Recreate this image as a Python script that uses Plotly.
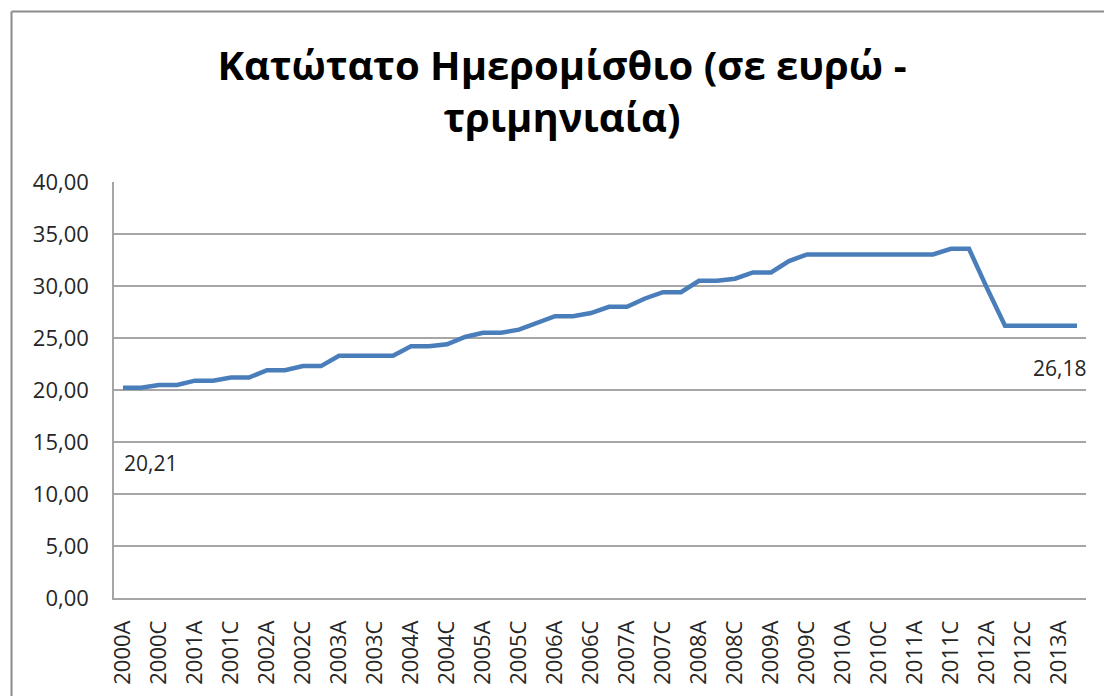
import plotly.graph_objects as go

years = list(range(2000, 2014))
quarters = ["A", "B", "C", "D"]
categories = [f"{y}{q}" for y in years for q in quarters][:54]  # 2000A .. 2013B

values = [
    20.21, 20.21, 20.48, 20.48,   # 2000
    20.90, 20.90, 21.20, 21.20,   # 2001
    21.90, 21.90, 22.30, 22.30,   # 2002
    23.30, 23.30, 23.30, 23.30,   # 2003
    24.20, 24.20, 24.40, 25.10,   # 2004
    25.50, 25.50, 25.80, 26.40,   # 2005
    27.10, 27.10, 27.40, 28.00,   # 2006
    28.00, 28.80, 29.40, 29.40,   # 2007
    30.50, 30.50, 30.70, 31.30,   # 2008
    31.30, 32.40, 33.04, 33.04,   # 2009
    33.04, 33.04, 33.04, 33.04,   # 2010
    33.04, 33.04, 33.57, 33.57,   # 2011
    29.80, 26.18, 26.18, 26.18,   # 2012
    26.18, 26.18,                 # 2013
]

tick_labels = categories[::2]
title_text = "Κατώτατο Ημερομίσθιο (σε ευρώ -<br>τριμηνιαία)"
y_ticks = [0, 5, 10, 15, 20, 25, 30, 35, 40]

FONT = "Open Sans, Noto Sans, DejaVu Sans, sans-serif"
GRID = "#a6a6a6"
FRAME = "#8c8c8c"

W, H = 1104, 696                 # final page size
W0, H0 = W - 16, H - 24          # initial size: fits inside default body margins (no scrollbars)
L, T = 114, 182
R, B = W - 1086, H - 598
PW, PH = W - L - R, H - T - B

fx = (11.5 - L) / PW          # frame left edge (paper)
fy = (T + PH - 11.5) / PH     # frame top edge (paper)

fig = go.Figure()
fig.add_trace(go.Scatter(
    x=categories, y=values, mode="lines",
    line=dict(color="#4a7ebb", width=4.5),
    hoverinfo="x+y", showlegend=False,
))

fig.add_annotation(x=categories[0], y=values[0], xref="x", yref="y",
                   text="20,21", showarrow=False, xanchor="left", yanchor="middle",
                   xshift=-1, yshift=-75,
                   font=dict(family=FONT, size=21, color="#262626"))
fig.add_annotation(x=categories[-1], y=values[-1], xref="x", yref="y",
                   text="26,18", showarrow=False, xanchor="right", yanchor="middle",
                   xshift=11, yshift=-42,
                   font=dict(family=FONT, size=21, color="#262626"))

fig.update_layout(
    width=W0, height=H0,
    margin=dict(l=L, r=R, t=T, b=B),
    paper_bgcolor="white", plot_bgcolor="white",
    separators=", ",
    title=dict(text=title_text, x=562 / W, xanchor="center", xref="container",
               y=1 - 80 / H, yanchor="middle", yref="container",
               font=dict(family=FONT, size=40, color="black", weight="bold")),
    font=dict(family=FONT, color="#262626"),
    xaxis=dict(
        type="category", tickmode="array", tickvals=tick_labels, ticktext=tick_labels,
        tickangle=-90, showgrid=False, showline=True, linecolor=GRID, linewidth=1.5,
        ticks="", ticklabelstandoff=12, tickfont=dict(family=FONT, size=22, color="#262626"),
        range=[-0.5, len(categories) - 0.5], automargin=False,
    ),
    yaxis=dict(
        range=[0, 40], tickvals=y_ticks, tickformat=".2f",
        showgrid=True, gridcolor=GRID, gridwidth=1.5,
        zeroline=True, zerolinecolor=GRID, zerolinewidth=1.5,
        showline=True, linecolor=GRID, linewidth=1.5, automargin=False,
        ticks="", ticklabelstandoff=19, tickfont=dict(family=FONT, size=22, color="#262626"),
    ),
    shapes=[
        dict(type="line", xref="paper", yref="paper", x0=fx, x1=fx, y0=-0.6, y1=fy,
             line=dict(color=FRAME, width=2), layer="below"),
        dict(type="line", xref="paper", yref="paper", x0=fx, x1=1.3, y0=fy, y1=fy,
             line=dict(color=FRAME, width=2), layer="below"),
    ],
)

post = (
    "document.documentElement.style.overflow='hidden';"
    "document.body.style.overflow='hidden';"
    "document.body.style.margin='0';document.body.style.padding='0';"
    "var gd=document.getElementById('{plot_id}');"
    f"gd.style.width='{W}px';gd.style.height='{H}px';"
    f"Plotly.relayout(gd,{{width:{W},height:{H}}});"
)

fig.write_html("out.html", config={"displayModeBar": False}, post_script=post)
